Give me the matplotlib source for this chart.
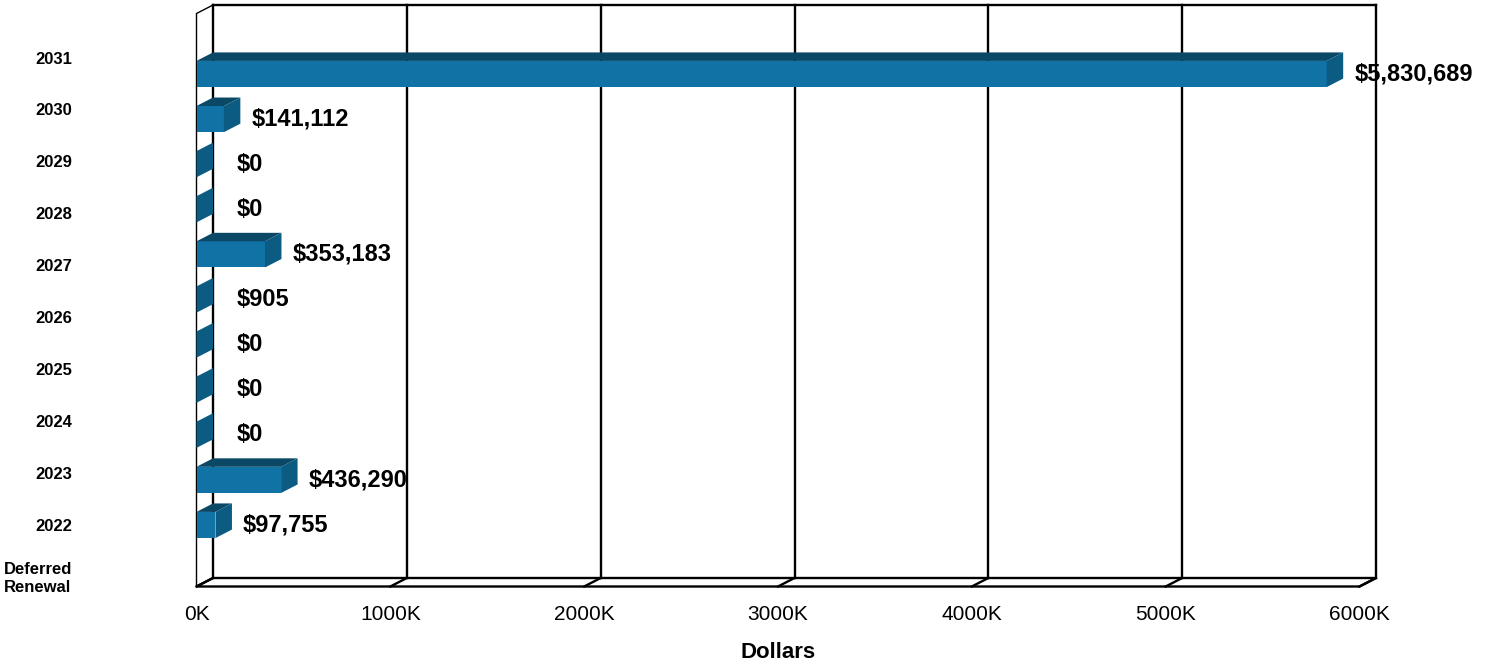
import matplotlib
matplotlib.use("Agg")
import matplotlib.pyplot as plt
from matplotlib.patches import Polygon

# data (top to bottom, as drawn)
categories = ['2031', '2030', '2029', '2028', '2027', '2026', '2025', '2024',
              '2023', '2022', 'Deferred\nRenewal']
values = [5830689, 141112, 0, 0, 353183, 905, 0, 0, 0, 436290, 97755]
x_ticks = [0, 1000000, 2000000, 3000000, 4000000, 5000000, 6000000]
x_ticklabels = ['0K', '1000K', '2000K', '3000K', '4000K', '5000K', '6000K']

front_col = '#1172A6'
top_col = '#0B4866'
side_col = '#0B5B82'

W, H = 1491, 666
plt.rcParams['font.family'] = ['Liberation Sans', 'DejaVu Sans']

fig = plt.figure(figsize=(W / 100, H / 100), dpi=100)
ax = fig.add_axes([0, 0, 1, 1])

# back wall spans 213..1376 px for 0..6M; bar rows every 45.1 px starting at 74
xmax = 6000000
px_x = 1163 / xmax
ax.set_xlim((0 - 213) / px_x, (W - 213) / px_x)
ax.set_ylim((H - 74) / 45.1, (0 - 74) / 45.1)
ax.axis('off')

dx = 16.5 / px_x          # depth offset (front is left/down of back)
dy = 8.5 / 45.1
yt = (5 - 74) / 45.1      # top of back wall
yb = (578 - 74) / 45.1    # bottom of back wall
h = 0.58                  # bar thickness

lw = 1.7
# left wall and floor
ax.add_patch(Polygon([(-dx, yt + dy), (0, yt), (0, yb), (-dx, yb + dy)],
                     closed=True, fc='white', ec='black', lw=1.0))
ax.add_patch(Polygon([(-dx, yb + dy), (xmax - dx, yb + dy), (xmax, yb), (0, yb)],
                     closed=True, fc='white', ec='black', lw=lw))
# back wall grid
ax.plot([0, xmax], [yt, yt], color='black', lw=lw)
for xt in x_ticks:
    ax.plot([xt, xt], [yt, yb], color='black', lw=lw)
    ax.plot([xt, xt - dx], [yb, yb + dy], color='black', lw=lw)

# 3d bars
for i, v in enumerate(values):
    top = i - h / 2
    bot = i + h / 2
    if v > 0:
        ax.add_patch(Polygon([(-dx, top), (v - dx, top), (v - dx, bot), (-dx, bot)],
                             closed=True, fc=front_col, ec='none', zorder=3))
        ax.add_patch(Polygon([(-dx, top), (v - dx, top), (v, top - dy), (0, top - dy)],
                             closed=True, fc=top_col, ec='none', zorder=3))
    ax.add_patch(Polygon([(v - dx, top), (v, top - dy), (v, bot - dy), (v - dx, bot)],
                         closed=True, fc=side_col, ec='none', zorder=3))
    lx = max(v + 11 / px_x, 24 / px_x)
    ax.text(lx, i, '${:,}'.format(v), ha='left', va='center',
            fontsize=17, fontweight='bold', zorder=4)

# category labels (spread evenly down the left side)
n = len(categories)
y0, y1 = (59 - 74) / 45.1, (578 - 74) / 45.1
for k, lab in enumerate(categories):
    yy = y0 + (y1 - y0) * k / (n - 1)
    ax.text((72 - 213) / px_x, yy, lab, ha='right', va='center',
            multialignment='center', fontsize=12, fontweight='bold',
            linespacing=1.25)

# x tick labels (centred on the front edge) and title
for xt, lab in zip(x_ticks, x_ticklabels):
    ax.text(xt - dx, (614 - 74) / 45.1, lab, ha='center', va='center', fontsize=15)
ax.text(xmax / 2 - dx, (652 - 74) / 45.1, 'Dollars', ha='center', va='center',
        fontsize=16, fontweight='bold')

fig.savefig('out.png', dpi=100)
